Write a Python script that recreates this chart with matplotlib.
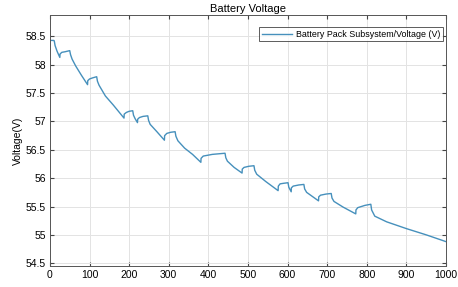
import matplotlib
matplotlib.use("Agg")
import matplotlib.pyplot as plt

# time (s) and pack voltage (V)
t = [0, 10, 11, 13, 18, 25,
     25.5, 30, 38, 50, 52, 56, 65, 80, 95,
     95.5, 100, 108, 118, 120, 124, 140, 160, 187,
     187.5, 193, 200, 209, 211, 215, 221,
     221.5, 226, 235, 247, 249, 253, 270, 289,
     289.5, 295, 305, 316, 318, 323, 340, 360, 381,
     381.5, 387, 410, 442, 444, 448, 465, 485,
     485.5, 490, 502, 515, 517, 522, 545, 576,
     576.5, 581, 590, 601, 603, 609,
     609.5, 614, 628, 641, 643, 648, 660, 678,
     678.5, 683, 697, 710, 712, 717, 740, 772,
     772.5, 777, 795, 810, 812, 820, 850, 900, 950, 1000]
voltage = [58.43, 58.43, 58.42, 58.34, 58.24, 58.13,
           58.19, 58.22, 58.23, 58.25, 58.18, 58.10, 57.98, 57.81, 57.65,
           57.72, 57.75, 57.77, 57.79, 57.71, 57.64, 57.45, 57.29, 57.06,
           57.13, 57.16, 57.18, 57.19, 57.11, 57.05, 56.98,
           57.04, 57.07, 57.09, 57.10, 57.02, 56.95, 56.82, 56.67,
           56.75, 56.79, 56.81, 56.82, 56.74, 56.66, 56.53, 56.42, 56.28,
           56.35, 56.39, 56.42, 56.44, 56.36, 56.30, 56.19, 56.09,
           56.16, 56.19, 56.21, 56.22, 56.14, 56.07, 55.94, 55.78,
           55.86, 55.90, 55.91, 55.92, 55.84, 55.76,
           55.83, 55.86, 55.88, 55.89, 55.81, 55.75, 55.69, 55.60,
           55.67, 55.70, 55.72, 55.73, 55.65, 55.59, 55.49, 55.37,
           55.44, 55.48, 55.52, 55.54, 55.44, 55.33, 55.23, 55.11, 55.00, 54.88]

xticks = list(range(0, 1001, 100))
yticks = [54.5, 55, 55.5, 56, 56.5, 57, 57.5, 58, 58.5]
ytick_labels = ["54.5", "55", "55.5", "56", "56.5", "57", "57.5", "58", "58.5"]

plt.rcParams['font.family'] = ['Liberation Sans', 'DejaVu Sans']

fig = plt.figure(figsize=(4.58, 2.87), dpi=100)
ax = fig.add_axes([0.109, 0.073, 0.865, 0.875])

ax.plot(t, voltage, color='#4690bc', linewidth=1.0,
        label='Battery Pack Subsystem/Voltage (V)')

ax.set_xlim(0, 1000)
ax.set_ylim(54.45, 58.88)
ax.set_xticks(xticks)
ax.set_yticks(yticks)
ax.set_yticklabels(ytick_labels)
ax.grid(True, color='#e3e3e3', linewidth=0.7)
ax.tick_params(labelsize=7.5, direction='in', length=3, color='#444444',
               top=True, right=True, pad=3)
for s in ax.spines.values():
    s.set_color('#555555')
    s.set_linewidth(0.7)

ax.set_title('Battery Voltage', fontsize=8, pad=2)
ax.set_ylabel('Voltage(V)', fontsize=7.5, labelpad=2)

leg = ax.legend(loc='upper right', bbox_to_anchor=(0.992, 0.952),
                fontsize=6.4, frameon=True, fancybox=False,
                borderpad=0.3, handlelength=3.4, handletextpad=0.4,
                borderaxespad=0.0)
leg.get_frame().set_edgecolor('#333333')
leg.get_frame().set_linewidth(0.7)

fig.savefig('out.png', dpi=100)
